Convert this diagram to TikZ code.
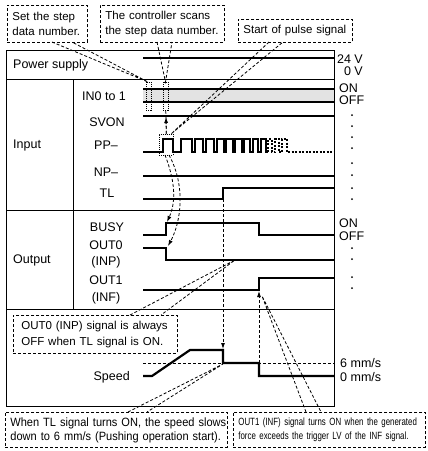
\documentclass[tikz,border=0pt]{standalone}
\usepackage{fontspec}
\setmainfont{Liberation Sans}
\newfontfamily\narrowA{Liberation Sans}[FakeStretch=0.92]
\newfontfamily\narrowB{Liberation Sans}[FakeStretch=0.75]
\usetikzlibrary{arrows.meta}
\newcommand\cl[1]{\mbox{#1}}
\begin{document}
\begin{tikzpicture}[x=1pt,y=-1pt,
  frame/.style={line width=0.8pt},
  sig/.style={line width=2.2pt},
  dsig/.style={line width=2.2pt, dash pattern=on 2pt off 1.5pt},
  dsh/.style={line width=0.8pt, dash pattern=on 3pt off 2pt},
  dotr/.style={draw, line width=0.6pt, dash pattern=on 1pt off 1pt, inner sep=0pt, anchor=north west},
  lab/.style={font=\fontsize{12.5}{14}\selectfont, inner sep=0pt},
  rlab/.style={font=\fontsize{12.5}{14}\selectfont, inner sep=0pt, anchor=west},
  callout/.style={draw, dsh, fill=white, align=left, inner xsep=5pt, inner ysep=2pt, font=\fontsize{11.5}{15.5}\selectfont, anchor=north west},
  arr/.style={dsh, -{Latex[length=6pt,width=4pt]}},
  dotb/.style={circle, fill, inner sep=0pt, minimum size=2pt}
]
\useasboundingbox (0,0) rectangle (428,451);
% frame
\draw[frame] (6,50) rectangle (334,406);
\draw[frame] (6,79) -- (334,79);
\draw[frame] (6,210) -- (334,210);
\draw[frame] (6,309) -- (334,309);
\draw[frame] (73,79) -- (73,309);
% left labels
\node[lab, anchor=west] (lps) at (13,65) {Power supply};
\node[lab, anchor=west] (lin) at (13,145) {Input};
\node[lab, anchor=west] (lout) at (13,260) {Output};
\node[lab] (lin01) at (104,96) {IN0 to 1};
\node[lab] (lsvon) at (107,122) {SVON};
\node[lab] (lpp) at (106,145) {PP--};
\node[lab] (lnp) at (106,172) {NP--};
\node[lab] (ltl) at (107,193) {TL};
\node[lab] (lbusy) at (107,227) {BUSY};
\node[lab] (lout0) at (106,245) {OUT0};
\node[lab] (linp) at (106,262) {(INP)};
\node[lab] (lout1) at (106,280) {OUT1};
\node[lab] (linf) at (106,298) {(INF)};
\node[lab, anchor=east] (lspeed) at (130,377) {Speed};
% right labels
\node[lab, anchor=east] (r24) at (363,59) {24 V};
\node[lab, anchor=east] (r0) at (363,71) {0 V};
\node[rlab] (ron1) at (339,88) {ON};
\node[rlab] (roff1) at (339,100) {OFF};
\node[rlab] (ron2) at (339,223) {ON};
\node[rlab] (roff2) at (339,236) {OFF};
\node[rlab] (r6) at (340,363) {6 mm/s};
\node[rlab] (r0mm) at (340,377) {0 mm/s};
\foreach \yy [count=\i] in {115,126,137,148,163,175,188,199,248,259,277,288}
  \node[dotb] (d\i) at (352,\yy) {};
% signals
\draw[sig] (143,58) -- (334,58);
\fill[gray!22] (143,89) rectangle (334,102);
\draw[sig] (143,89) -- (334,89);
\draw[sig] (143,102) -- (334,102);
\draw[sig] (143,116) -- (334,116);
\draw[sig, line join=miter] (143,152)
  \foreach \r/\f in {163/173,181/192,195/203,206/214,217/224,226/233,235/242,244/250,253/258,261/266}
  { -- (\r,152) -- (\r,139) -- (\f,139) -- (\f,152) } -- (268,152);
\draw[dsig] (268,152) -- (268,139) -- (272,139) -- (272,152) -- (275,152) -- (275,139) -- (279,139) -- (279,152) -- (282,152) -- (282,139) -- (287,139) -- (287,152) -- (334,152);
\draw[sig] (143,176) -- (334,176);
\draw[sig, line join=miter] (143,199) -- (223,199) -- (223,188) -- (334,188);
\draw[sig, line join=miter] (143,235) -- (166,235) -- (166,223) -- (259,223) -- (259,235) -- (334,235);
\draw[sig, line join=miter] (143,248) -- (166,248) -- (166,260) -- (334,260);
\draw[sig, line join=miter] (143,290) -- (259,290) -- (259,278) -- (334,278);
\draw[dsh] (143,363) -- (334,363);
\draw[sig, line join=miter] (143,376) -- (152,376) -- (190,350) -- (223,350) -- (223,363) -- (259,363) -- (259,376) -- (334,376);
% dotted rectangles
\node[dotr, minimum width=5pt, minimum height=28pt] (rA) at (146,82) {};
\node[dotr, minimum width=5pt, minimum height=28pt] (rB) at (163,82) {};
\node[dotr, minimum width=14pt, minimum height=21pt] (rP) at (159,134) {};
% callouts
\node[callout, text width=70pt, minimum height=37pt] (c1) at (7,5) {\cl{Set the step}\\\cl{data number.}};
\node[callout, text width=114pt, minimum height=37pt] (c2) at (100,5) {\cl{The controller scans}\\\cl{the step data number.}};
\node[callout, text width=104pt, minimum height=23pt] (c3) at (238,19) {\cl{Start of pulse signal}};
\node[callout, text width=148pt, minimum height=38pt, inner xsep=8pt] (c4) at (13,315) {\cl{OUT0 (INP) signal is always}\\\cl{OFF when TL signal is ON.}};
\node[callout, text width=212pt, minimum height=35pt, font=\narrowA\fontsize{12}{14}\selectfont] (c5) at (5,412) {\cl{When TL signal turns ON, the speed slows}\\\cl{down to 6 mm/s (Pushing operation start).}};
\node[callout, text width=182pt, minimum height=35pt, font=\narrowB\fontsize{10.5}{14}\selectfont] (c6) at (233,412) {\cl{OUT1 (INF) signal turns ON when the generated}\\\cl{force exceeds the trigger LV of the INF signal.}};
% callout tails
\coordinate (t1a) at (52,42); \coordinate (t1b) at (72,42); \coordinate (t1) at (148,82);
\draw[dsh] (t1a) -- (t1) -- (t1b);
\coordinate (t2a) at (157,42); \coordinate (t2b) at (172,42); \coordinate (t2) at (165.5,82);
\draw[dsh] (t2a) -- (t2) -- (t2b);
\coordinate (t3a) at (269,42); \coordinate (t3b) at (283,42); \coordinate (t3) at (171,134);
\draw[dsh] (t3a) -- (t3) -- (t3b);
\coordinate (t4a) at (130,315); \coordinate (t4b) at (161,315); \coordinate (t4) at (235,260);
\draw[dsh] (t4a) -- (t4) -- (t4b);
\coordinate (t5a) at (128,412); \coordinate (t5b) at (147,412); \coordinate (t5) at (223,364);
\draw[dsh] (t5a) -- (t5) -- (t5b);
\coordinate (t6a) at (306,412); \coordinate (t6b) at (321,412); \coordinate (t6) at (262,296);
\draw[dsh] (t6a) -- (t6) -- (t6b);
% arrows
\coordinate (sv) at (166,117);
\draw[dsh] (rB.south) -- (rP.north);
\draw[arr] (rP.north) -- (sv);
\coordinate (busyup) at (167,222);
\coordinate (out0dn) at (168,246);
\draw[arr] (165,155) .. controls (174,178) and (177,200) .. (busyup);
\draw[arr] (169,155) .. controls (186,186) and (181,222) .. (out0dn);
\coordinate (tlup) at (223,199);
\coordinate (spd) at (223,349);
\draw[arr] (tlup) -- (spd);
\coordinate (spstep) at (259,363);
\coordinate (o1up) at (259,291);
\draw[arr] (spstep) -- (o1up);
\end{tikzpicture}
\end{document}
